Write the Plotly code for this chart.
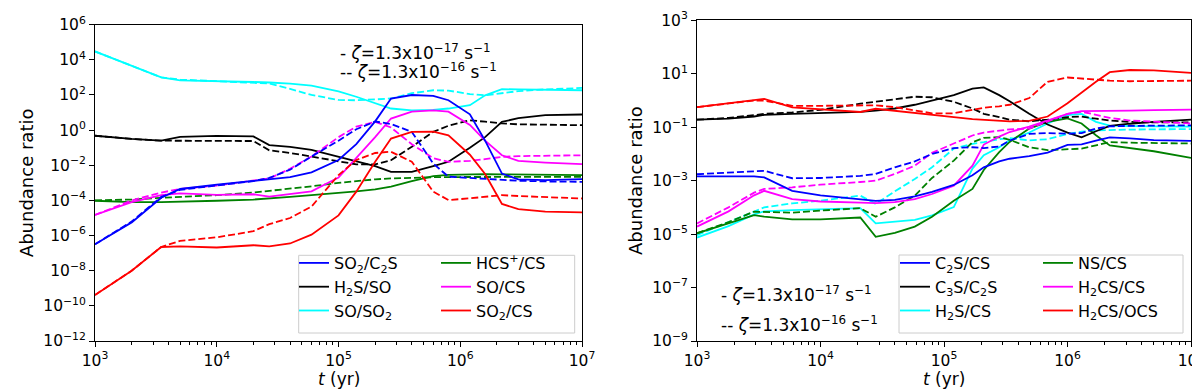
import numpy as np
import plotly.graph_objects as go
from plotly.subplots import make_subplots

W, H = 1200, 389

# time grid (yr) of each panel
t_left = [1e3, 2e3, 3.5e3, 5e3, 1e4, 2e4, 2.7e4, 4e4, 6e4, 1e5, 1.4e5, 2e5, 2.7e5,
          4e5, 6e5, 8e5, 1.2e6, 1.6e6, 2.2e6, 3e6, 5e6, 1e7]
t_right = [1e3, 1.8e3, 2.9e3, 3.5e3, 5.9e3, 1e4, 2.1e4, 2.8e4, 4e4, 5.8e4, 8e4, 1.2e5,
           1.7e5, 2.1e5, 2.8e5, 3.4e5, 4.9e5, 6.9e5, 1e6, 1.3e6, 1.7e6, 2.2e6, 3.2e6, 5e6, 1e7]

# log10 of the abundance ratios
# _1 : zeta = 1.3e-17 s-1 (solid), _2 : zeta = 1.3e-16 s-1 (dashed)
so2_c2s_1 = [-6.5, -5.25, -3.85, -3.35, -3.1, -2.9, -2.82, -2.68, -2.4, -1.7, -0.8, 0.5, 1.8,
             2.0, 1.95, 1.7, 0.9, -0.6, -2.47, -2.8, -2.85, -2.79]
so2_c2s_2 = [-6.5, -5.2, -3.8, -3.4, -3.15, -2.9, -2.72, -2.25, -1.5, -0.6, 0.05, 0.49, 0.35,
             -0.1, -1.9, -2.65, -2.72, -2.78, -2.85, -2.88, -2.92, -2.94]
h2s_so_1 = [-0.32, -0.5, -0.6, -0.38, -0.33, -0.36, -0.85, -0.95, -1.12, -1.5, -1.78, -2.05,
            -2.37, -2.38, -2.05, -1.8, -1.0, -0.4, 0.47, 0.68, 0.85, 0.89]
h2s_so_2 = [-0.32, -0.5, -0.6, -0.6, -0.6, -0.62, -1.15, -1.3, -1.5, -1.75, -1.95, -1.95,
            -1.71, -0.95, -0.1, 0.25, 0.56, 0.48, 0.38, 0.33, 0.3, 0.28]
so_so2_1 = [4.48, 3.67, 3.0, 2.83, 2.80, 2.74, 2.71, 2.65, 2.53, 2.2, 1.9, 1.55, 1.23, 1.13,
            1.15, 1.23, 1.42, 1.98, 2.33, 2.32, 2.30, 2.27]
so_so2_2 = [4.48, 3.67, 3.0, 2.88, 2.80, 2.72, 2.65, 2.35, 2.0, 1.72, 1.70, 1.75, 1.8, 2.1,
            2.27, 2.25, 2.05, 1.98, 2.12, 2.22, 2.32, 2.4]
hcs_cs_1 = [-4.02, -4.1, -4.1, -4.08, -4.02, -3.95, -3.9, -3.8, -3.7, -3.58, -3.48, -3.37,
            -3.22, -2.9, -2.62, -2.55, -2.5, -2.5, -2.52, -2.53, -2.55, -2.56]
hcs_cs_2 = [-4.0, -3.95, -3.85, -3.8, -3.7, -3.55, -3.45, -3.35, -3.2, -3.0, -2.9, -2.8,
            -2.75, -2.7, -2.68, -2.67, -2.66, -2.66, -2.66, -2.66, -2.66, -2.66]
so_cs_1 = [-4.83, -4.1, -3.7, -3.6, -3.68, -3.65, -3.78, -3.65, -3.48, -2.7, -1.6, -0.4, 0.66,
           1.05, 1.13, 1.05, 0.3, -0.6, -1.43, -1.75, -1.85, -1.94]
so_cs_2 = [-4.83, -4.0, -3.55, -3.35, -3.15, -2.9, -2.75, -2.2, -1.5, -0.4, 0.2, 0.47, 0.15,
           -0.8, -1.6, -1.8, -1.75, -1.65, -1.52, -1.48, -1.45, -1.43]
so2_cs_1 = [-9.38, -8.0, -6.65, -6.62, -6.68, -6.55, -6.62, -6.45, -5.95, -4.85, -3.5, -1.8,
            -0.48, -0.1, -0.08, -0.3, -1.4, -2.5, -4.2, -4.5, -4.64, -4.68]
so2_cs_2 = [-9.38, -8.0, -6.65, -6.3, -6.1, -5.75, -5.35, -5.0, -4.35, -2.56, -1.7, -1.3,
            -1.23, -1.8, -3.5, -3.98, -3.88, -3.78, -3.7, -3.75, -3.82, -3.89]

c2s_cs_1 = [-2.84, -2.84, -2.84, -2.88, -3.38, -3.55, -3.72, -3.76, -3.72, -3.59, -3.42, -3.16,
            -2.8, -2.5, -2.28, -2.18, -2.08, -1.95, -1.66, -1.64, -1.5, -1.38, -1.42, -1.48, -1.51]
c2s_cs_2 = [-2.76, -2.7, -2.63, -2.63, -2.91, -2.9, -2.82, -2.75, -2.5, -2.28, -2.0, -1.78,
            -1.75, -1.78, -1.72, -1.5, -1.25, -1.22, -1.24, -1.22, -1.05, -0.97, -0.95, -0.94, -0.93]
c3s_c2s_1 = [-0.72, -0.68, -0.6, -0.54, -0.5, -0.48, -0.43, -0.38, -0.3, -0.16, 0.0, 0.2, 0.44,
             0.49, 0.2, -0.03, -0.5, -0.9, -1.2, -1.38, -1.15, -0.95, -0.87, -0.8, -0.72]
c3s_c2s_2 = [-0.72, -0.65, -0.55, -0.5, -0.45, -0.35, -0.12, -0.05, 0.05, 0.14, 0.12, -0.05,
             -0.3, -0.5, -0.62, -0.72, -0.78, -0.72, -0.62, -0.6, -0.68, -0.75, -0.8, -0.82, -0.82]
h2s_cs_1 = [-5.13, -4.7, -4.26, -4.15, -4.1, -4.07, -4.03, -4.6, -4.55, -4.47, -4.3, -3.99,
            -2.55, -2.05, -1.75, -1.49, -1.2, -0.86, -0.55, -0.5, -0.8, -0.94, -0.96, -0.97, -0.98]
h2s_cs_2 = [-5.04, -4.55, -4.14, -4.0, -3.85, -3.75, -3.56, -3.87, -3.4, -2.94, -2.5, -1.8,
            -1.62, -1.56, -1.45, -1.41, -1.49, -1.45, -1.25, -1.17, -1.12, -1.1, -1.09, -1.08, -1.07]
ns_cs_1 = [-4.97, -4.6, -4.29, -4.35, -4.45, -4.45, -4.38, -5.1, -4.95, -4.72, -4.35, -3.75,
           -3.31, -2.6, -1.93, -1.55, -1.05, -0.8, -0.67, -0.86, -1.3, -1.68, -1.78, -1.9, -2.15]
ns_cs_2 = [-4.97, -4.55, -4.16, -4.17, -4.2, -4.12, -4.03, -4.35, -4.0, -3.56, -2.9, -2.25,
           -1.56, -1.4, -1.37, -1.47, -1.75, -1.86, -1.83, -1.8, -1.68, -1.56, -1.58, -1.6, -1.61]
h2cs_cs_1 = [-4.72, -4.15, -3.55, -3.38, -3.69, -3.78, -3.82, -3.84, -3.8, -3.69, -3.5, -3.19,
             -2.44, -1.65, -1.35, -1.18, -0.98, -0.74, -0.5, -0.4, -0.4, -0.4, -0.38, -0.36, -0.34]
h2cs_cs_2 = [-4.6, -4.0, -3.45, -3.31, -3.25, -3.15, -3.05, -3.0, -2.75, -2.44, -1.96, -1.6,
             -1.31, -1.2, -1.12, -1.08, -1.05, -0.8, -0.5, -0.42, -0.55, -0.65, -0.75, -0.8, -0.86]
h2cs_ocs_1 = [-0.25, -0.1, 0.03, 0.06, -0.26, -0.32, -0.43, -0.31, -0.38, -0.45, -0.52, -0.62,
              -0.7, -0.72, -0.77, -0.78, -0.76, -0.6, -0.1, 0.3, 0.7, 1.06, 1.14, 1.13, 1.03]
h2cs_ocs_2 = [-0.25, -0.1, 0.0, -0.01, -0.2, -0.2, -0.17, -0.18, -0.25, -0.38, -0.48, -0.48,
              -0.35, -0.27, -0.22, -0.16, 0.09, 0.7, 0.86, 0.82, 0.78, 0.74, 0.72, 0.73, 0.74]

x_ticks = [1e3, 1e4, 1e5, 1e6, 1e7]
x_exp = [3, 4, 5, 6, 7]
y_exp_left = [6, 4, 2, 0, -2, -4, -6, -8, -10, -12]
y_exp_right = [3, 1, -1, -3, -5, -7, -9]

fig = make_subplots(rows=1, cols=2)


def add_pair(col, t, solid, dashed, name, color, legend):
    fig.add_trace(go.Scatter(x=t, y=np.power(10.0, solid), mode="lines", name=name,
                             line=dict(color=color, width=1.8), legend=legend),
                  row=1, col=col)
    fig.add_trace(go.Scatter(x=t, y=np.power(10.0, dashed), mode="lines", showlegend=False,
                             line=dict(color=color, width=1.8, dash="7px,3px")),
                  row=1, col=col)


add_pair(1, t_left, so_so2_1, so_so2_2, "SO/SO<sub>2</sub>", "#00ffff", "legend")
add_pair(1, t_left, hcs_cs_1, hcs_cs_2, "HCS<sup>+</sup>/CS", "#008000", "legend2")
add_pair(1, t_left, h2s_so_1, h2s_so_2, "H<sub>2</sub>S/SO", "#000000", "legend")
add_pair(1, t_left, so_cs_1, so_cs_2, "SO/CS", "#ff00ff", "legend2")
add_pair(1, t_left, so2_c2s_1, so2_c2s_2, "SO<sub>2</sub>/C<sub>2</sub>S", "#0000ff", "legend")
add_pair(1, t_left, so2_cs_1, so2_cs_2, "SO<sub>2</sub>/CS", "#ff0000", "legend2")

add_pair(2, t_right, h2s_cs_1, h2s_cs_2, "H<sub>2</sub>S/CS", "#00ffff", "legend3")
add_pair(2, t_right, ns_cs_1, ns_cs_2, "NS/CS", "#008000", "legend4")
add_pair(2, t_right, c3s_c2s_1, c3s_c2s_2, "C<sub>3</sub>S/C<sub>2</sub>S", "#000000", "legend3")
add_pair(2, t_right, h2cs_cs_1, h2cs_cs_2, "H<sub>2</sub>CS/CS", "#ff00ff", "legend4")
add_pair(2, t_right, c2s_cs_1, c2s_cs_2, "C<sub>2</sub>S/CS", "#0000ff", "legend3")
add_pair(2, t_right, h2cs_ocs_1, h2cs_ocs_2, "H<sub>2</sub>CS/OCS", "#ff0000", "legend4")

# legend order inside each column
order = {"SO<sub>2</sub>/C<sub>2</sub>S": 1, "H<sub>2</sub>S/SO": 2, "SO/SO<sub>2</sub>": 3,
         "HCS<sup>+</sup>/CS": 1, "SO/CS": 2, "SO<sub>2</sub>/CS": 3,
         "C<sub>2</sub>S/CS": 1, "C<sub>3</sub>S/C<sub>2</sub>S": 2, "H<sub>2</sub>S/CS": 3,
         "NS/CS": 1, "H<sub>2</sub>CS/CS": 2, "H<sub>2</sub>CS/OCS": 3}
for tr in fig.data:
    if tr.name in order:
        tr.legendrank = order[tr.name]


def pow_label(e):
    return "10<sup>%s</sup>" % str(e).replace("-", "\u2212")


minor_x = [m * 10.0 ** e for e in range(3, 7) for m in range(2, 10)]

axis_style = dict(type="log", showline=True, linecolor="black", linewidth=1, mirror=True,
                  ticks="outside", ticklen=5, tickcolor="black", showgrid=False,
                  zeroline=False, tickfont=dict(size=15.5), automargin=False)

fig.update_xaxes(axis_style, range=[3, 7], tickvals=x_ticks,
                 ticktext=[pow_label(e) for e in x_exp],
                 minor=dict(tickvals=minor_x, ticks="outside", ticklen=3, tickcolor="black"))
fig.update_yaxes(axis_style, title=dict(text="Abundance ratio", font=dict(size=18), standoff=4))

fig.update_xaxes(domain=[87 / W, 574 / W], row=1, col=1)
fig.update_xaxes(domain=[689 / W, 1183 / W], row=1, col=2)
fig.update_yaxes(domain=[1 - 333 / H, 1 - 16.7 / H], range=[-12, 6],
                 tickvals=[10.0 ** e for e in y_exp_left],
                 ticktext=[pow_label(e) for e in y_exp_left], row=1, col=1)
fig.update_yaxes(domain=[1 - 333 / H, 1 - 12.3 / H], range=[-9, 3],
                 tickvals=[10.0 ** e for e in y_exp_right],
                 ticktext=[pow_label(e) for e in y_exp_right], row=1, col=2)

# x titles
for xc in [(87 + 574) / 2, (689 + 1183) / 2]:
    fig.add_annotation(text="<i>t</i> (yr)", xref="paper", yref="paper", x=xc / W,
                       y=1 - 371 / H, xanchor="center", yanchor="middle", showarrow=False,
                       font=dict(size=17))

leg = dict(bgcolor="rgba(0,0,0,0)", borderwidth=0, font=dict(size=16),
           xanchor="left", yanchor="top", tracegroupgap=0)
fig.update_layout(
    legend=dict(leg, x=286 / W, y=1 - 238 / H),
    legend2=dict(leg, x=428 / W, y=1 - 238 / H),
    legend3=dict(leg, x=887 / W, y=1 - 238 / H),
    legend4=dict(leg, x=1030 / W, y=1 - 238 / H),
)

# legend frames
for x0, x1, y0, y1 in [(290.7, 566.7, 247.3, 325), (891, 1175, 247, 325)]:
    fig.add_shape(type="rect", xref="paper", yref="paper",
                  x0=x0 / W, x1=x1 / W, y0=1 - y1 / H, y1=1 - y0 / H,
                  line=dict(color="#cccccc", width=1), fillcolor="rgba(255,255,255,0.8)",
                  layer="above")

zeta1 = "- <i>\u03b6</i>=1.3x10<sup>\u221217</sup> s<sup>\u22121</sup>"
zeta2 = "-- <i>\u03b6</i>=1.3x10<sup>\u221216</sup> s<sup>\u22121</sup>"
for txt, x, y in [(zeta1, 330, 43.5), (zeta2, 330, 63), (zeta1, 711, 286), (zeta2, 711, 316)]:
    fig.add_annotation(text=txt, xref="paper", yref="paper", x=x / W, y=1 - y / H,
                       xanchor="left", yanchor="middle", showarrow=False,
                       font=dict(size=17))

fig.update_layout(
    width=W, height=H,
    margin=dict(l=0, r=0, t=0, b=0),
    plot_bgcolor="white", paper_bgcolor="white",
    font=dict(family="DejaVu Sans", color="black", size=16),
)

fig.write_html("out.html")
